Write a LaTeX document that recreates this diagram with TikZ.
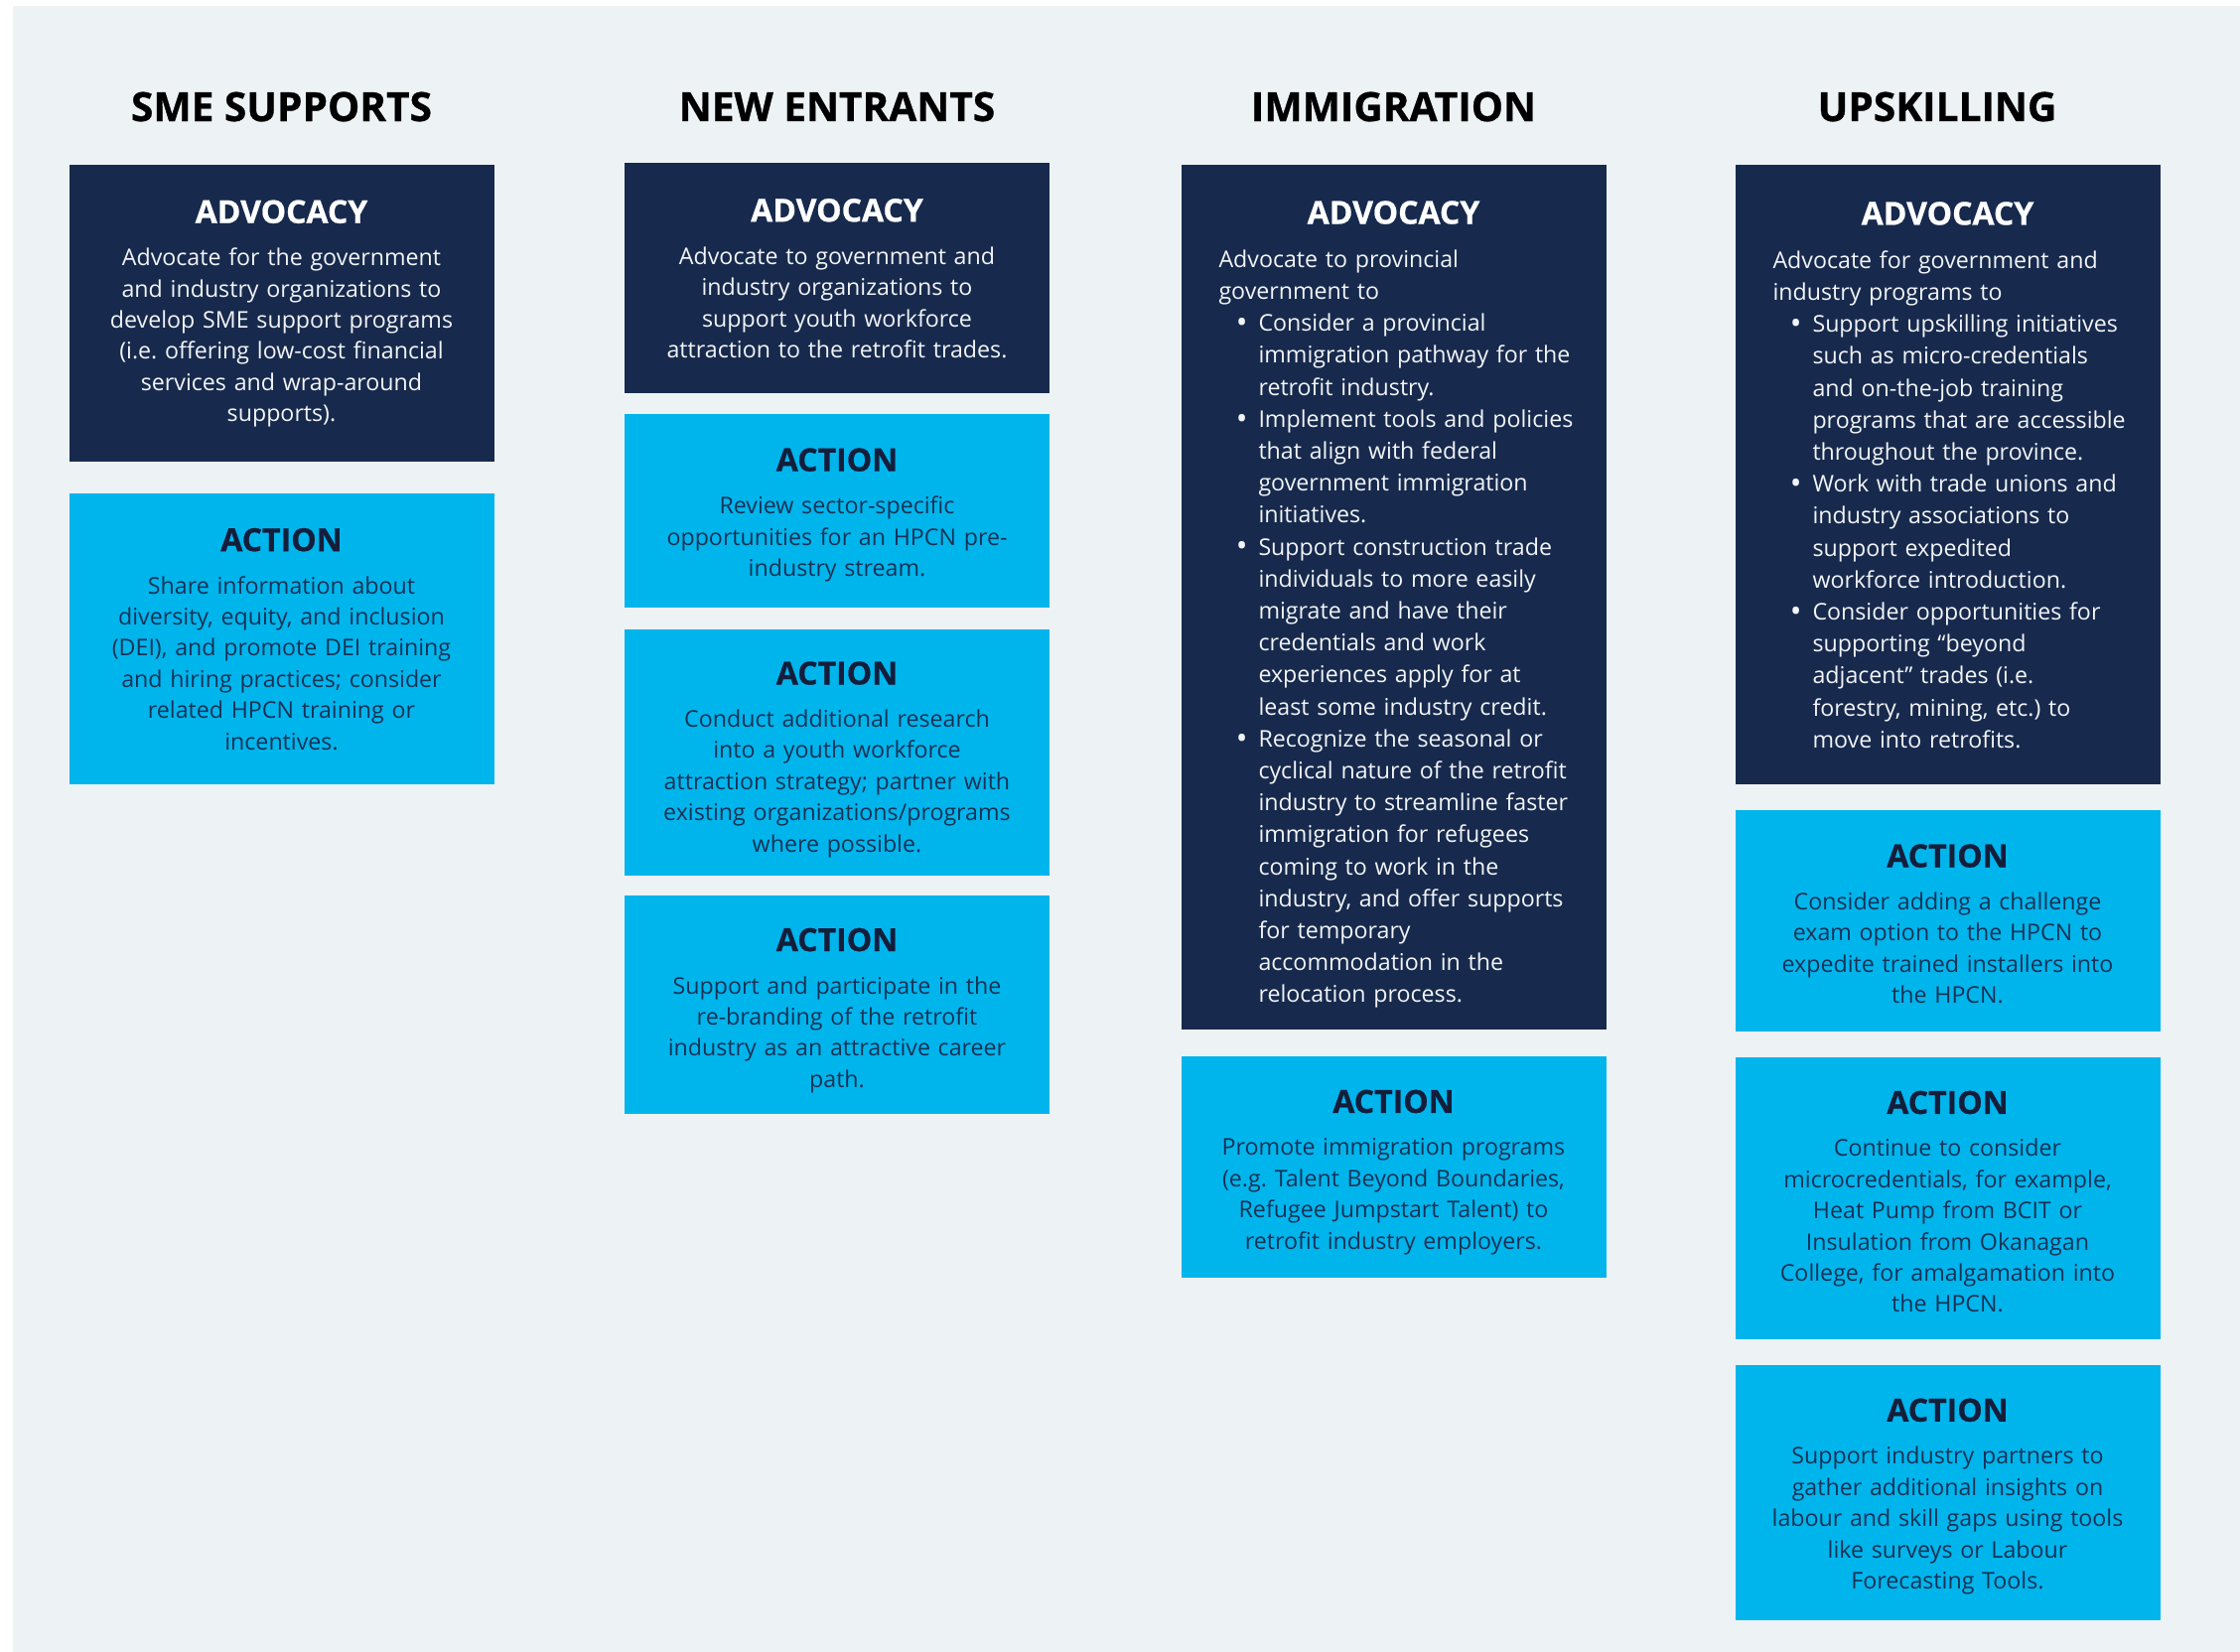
\documentclass[tikz,border=0pt]{standalone}
\usepackage{fontspec}
\setmainfont{Open Sans}[BoldFeatures={FakeBold=0.7}]
\usetikzlibrary{positioning}
\frenchspacing

\definecolor{pagebg}{HTML}{EDF2F5}
\definecolor{navybox}{HTML}{172A4D}
\definecolor{cyanbox}{HTML}{00B5EC}
\definecolor{advtext}{HTML}{F2F4F7}
\definecolor{actionnavy}{HTML}{141E3B}
\definecolor{acttext}{HTML}{173256}

\newcommand{\boxfont}{\fontsize{11.6}{15.7}\selectfont\setlength{\parindent}{0pt}}
\newcommand{\listfont}{\fontsize{11.6}{16.1}\selectfont\setlength{\parindent}{0pt}}
\newcommand{\boxhead}[2]{{\centering\fontsize{16}{19}\selectfont\bfseries\leavevmode\color{#1}#2\par}\vspace{5.8pt}}
\newcommand{\advhead}{\boxhead{white}{ADVOCACY}}
\newcommand{\acthead}{\boxhead{actionnavy}{ACTION}}
\newcommand{\bigdot}{\raisebox{-0.9pt}{\fontsize{15.5}{15.5}\selectfont\textbullet}}
\newenvironment{dotlist}{\list{\bigdot}{\setlength{\leftmargin}{20pt}\setlength{\labelwidth}{12pt}%
  \setlength{\labelsep}{5.5pt}\setlength{\itemsep}{0pt}\setlength{\parsep}{0pt}%
  \setlength{\topsep}{0pt}\setlength{\partopsep}{0pt}}\setlength{\rightskip}{-20pt plus 1fil}}{\endlist}

\begin{document}
\begin{tikzpicture}[x=0.5pt, y=-0.5pt,
  head node/.style={font=\fontsize{20.3}{24}\selectfont\bfseries, text=black, inner sep=0pt},
  box node/.style={text width=214pt, inner xsep=0pt, inner ysep=0pt, align=center, font=\boxfont},
  adv node/.style={box node, fill=navybox, text=advtext},
  act node/.style={box node, fill=cyanbox, text=acttext},
  list node/.style={adv node, text width=176pt, inner xsep=19pt, align=left, font=\listfont},
  text drop/.style={execute at begin node={\rule{0pt}{\dimexpr 11.6pt+#1\relax}}}]
\useasboundingbox (0,0) rectangle (2256,1664);
\fill[pagebg] (13,6) rectangle (2256,1664);

\foreach \n/\x/\t in {sme/283.5/SME SUPPORTS, ne/843/NEW ENTRANTS, imm/1403.5/IMMIGRATION, up/1951/UPSKILLING}{
    \node[head node] (\n head) at (\x,107.5) {\t};}

% SME supports
\node[adv node, minimum height=149.5pt, anchor=north] (smeadv) at (283.5,166) {\advhead
Advocate for the government\\ and industry organizations to\\ develop SME support programs\\
(i.e. offering low-cost financial\\ services and wrap-around\\ supports).};
\node[act node, minimum height=146.5pt, below=15.5pt of smeadv] (smeact) {\acthead
Share information about\\ diversity, equity, and inclusion\\ (DEI), and promote DEI training\\
and hiring practices; consider\\ related HPCN training or\\ incentives.};

% new entrants
\node[adv node, minimum height=116pt, anchor=north] (neadv) at (843,164) {\advhead
Advocate to government and\\ industry organizations to\\ support youth workforce\\
attraction to the retrofit trades.};
\node[act node, text drop=4pt, minimum height=97.5pt, below=10pt of neadv] (neact1) {\acthead
Review sector-specific\\ opportunities for an HPCN pre-\\ industry stream.};
\node[act node, text drop=7pt, minimum height=124pt, below=10.5pt of neact1] (neact2) {\acthead
Conduct additional research\\ into a youth workforce\\ attraction strategy; partner with\\
existing organizations/programs\\ where possible.};
\node[act node, text drop=6pt, minimum height=110pt, below=9.5pt of neact2] (neact3) {\acthead
Support and participate in the\\ re-branding of the retrofit\\ industry as an attractive career\\ path.};

% immigration
\node[list node, text drop=7pt, minimum height=435.5pt, anchor=north] (immadv) at (1403.5,166) {\advhead
Advocate to provincial\\ government to
\begin{dotlist}
\item Consider a provincial\\ immigration pathway for the\\ retrofit industry.
\item Implement tools and policies\\ that align with federal\\ government immigration\\ initiatives.
\item Support construction trade\\ individuals to more easily\\ migrate and have their\\
credentials and work\\ experiences apply for at\\ least some industry credit.
\item Recognize the seasonal or\\ cyclical nature of the retrofit\\ industry to streamline faster\\
immigration for refugees\\ coming to work in the\\ industry, and offer supports\\
for temporary\\ accommodation in the\\ relocation process.
\end{dotlist}};
\node[act node, text drop=5pt, minimum height=111.5pt, below=13pt of immadv] (immact) {\acthead
Promote immigration programs\\ (e.g. Talent Beyond Boundaries,\\ Refugee Jumpstart Talent) to\\
retrofit industry employers.};

% upskilling
\node[list node, minimum height=312pt, anchor=north] (upadv) at (1961.5,166) {\advhead
Advocate for government and\\ industry programs to
\begin{dotlist}
\item Support upskilling initiatives\\ such as micro-credentials\\ and on-the-job training\\
programs that are accessible\\ throughout the province.
\item Work with trade unions and\\ industry associations to\\ support expedited\\ workforce introduction.
\item Consider opportunities for\\ supporting “beyond\\ adjacent” trades (i.e.\\
forestry, mining, etc.) to\\ move into retrofits.
\end{dotlist}};
\node[act node, text drop=3pt, minimum height=111.5pt, below=12.5pt of upadv] (upact1) {\acthead
Consider adding a challenge\\ exam option to the HPCN to\\ expedite trained installers into\\ the HPCN.};
\node[act node, text drop=3.5pt, minimum height=142pt, below=12.5pt of upact1] (upact2) {\acthead
Continue to consider\\ microcredentials, for example,\\ Heat Pump from BCIT or\\
Insulation from Okanagan\\ College, for amalgamation into\\ the HPCN.};
\node[act node, text drop=4pt, minimum height=128.5pt, below=12.5pt of upact2] (upact3) {\acthead
Support industry partners to\\ gather additional insights on\\ labour and skill gaps using tools\\
like surveys or Labour\\ Forecasting Tools.};
\end{tikzpicture}
\end{document}
